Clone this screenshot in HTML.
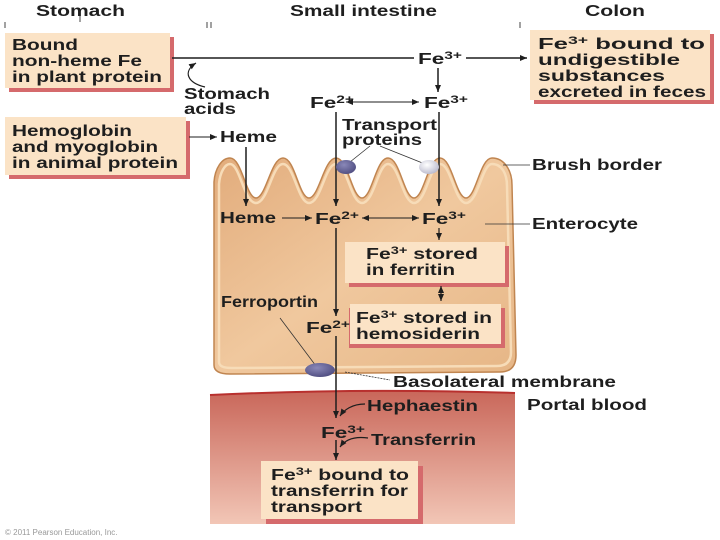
<!DOCTYPE html>
<html><head><meta charset="utf-8"><style>
html,body{margin:0;padding:0;background:#fff}
svg{display:block}
text{font-family:"Liberation Sans",Arial,sans-serif;font-weight:bold;fill:#1e1e1e;font-size:16px}
</style></head><body>
<svg width="720" height="540" viewBox="0 0 720 540" xmlns="http://www.w3.org/2000/svg">
<defs>
<marker id="a" markerWidth="8" markerHeight="8" refX="7" refY="4" orient="auto" markerUnits="userSpaceOnUse"><path d="M0,1 L7,4 L0,7 Z" fill="#1e1e1e"/></marker>
<marker id="b" markerWidth="8" markerHeight="8" refX="1" refY="4" orient="auto" markerUnits="userSpaceOnUse"><path d="M8,1 L1,4 L8,7 Z" fill="#1e1e1e"/></marker>
<linearGradient id="cell" x1="0" y1="0" x2="1" y2="1"><stop offset="0" stop-color="#e2ac7c"/><stop offset="0.5" stop-color="#f0c89e"/><stop offset="1" stop-color="#e6b686"/></linearGradient>
<linearGradient id="blood" x1="0" y1="0" x2="0" y2="1"><stop offset="0" stop-color="#c9675a"/><stop offset="1" stop-color="#f2c6b6"/></linearGradient>
<radialGradient id="ov" cx="0.4" cy="0.35" r="0.7"><stop offset="0" stop-color="#8a88b8"/><stop offset="1" stop-color="#4e4c80"/></radialGradient>
<radialGradient id="ov2" cx="0.4" cy="0.35" r="0.7"><stop offset="0" stop-color="#ffffff"/><stop offset="1" stop-color="#b8b8cc"/></radialGradient>
</defs>

<text x="36" y="16" textLength="89" lengthAdjust="spacingAndGlyphs">Stomach</text>
<text x="290" y="16" textLength="147" lengthAdjust="spacingAndGlyphs">Small intestine</text>
<text x="585" y="16" textLength="60" lengthAdjust="spacingAndGlyphs">Colon</text>
<g stroke="#444" stroke-width="1">
<line x1="5" y1="22" x2="5" y2="28"/><line x1="80" y1="16" x2="80" y2="22"/>
<line x1="207" y1="22" x2="207" y2="28"/><line x1="211" y1="22" x2="211" y2="28"/>
<line x1="520" y1="22" x2="520" y2="28"/>
</g>

<path d="M210,395 Q360,388 515,393 L515,524 L210,524 Z" fill="url(#blood)"/>
<path d="M210,395 Q360,388 515,393" fill="none" stroke="#b8302e" stroke-width="2"/>

<path d="M214,365 L214,182 C215,168 222,158 230,158 C242,158 246,198 256,198 C266,198 271,158 283,158 C295,158 299,198 309,198 C319,198 324,158 336,158 C348,158 352,198 362,198 C372,198 376,158 388,158 C400,158 404,198 414,198 C424,198 428,158 440,158 C452,158 456,198 466,198 C476,198 480,158 492,158 C504,158 512,170 512,185 L516,355 Q516,372 500,372 L230,374 Q214,374 214,365 Z" fill="url(#cell)" stroke="#c08550" stroke-width="1.5"/>
<path d="M219,362 L219,184 C220,172 225,164 230,164 C240,164 244,203 256,203 C268,203 272,164 283,164 C294,164 298,203 309,203 C321,203 325,164 336,164 C347,164 351,203 362,203 C374,203 378,164 388,164 C399,164 403,203 414,203 C426,203 430,164 440,164 C451,164 455,203 466,203 C478,203 482,164 492,164 C502,164 507,174 507,186 L511,352 Q511,366 497,366 L232,368 Q219,368 219,362 Z" fill="none" stroke="#f7dcb8" stroke-width="2.5"/>

<rect x="9" y="37" width="165" height="55" fill="#d56a6c"/>
<rect x="5" y="33" width="165" height="55" fill="#fbe3c6"/>
<text x="12" y="50" textLength="66" lengthAdjust="spacingAndGlyphs">Bound</text>
<text x="12" y="66" textLength="130" lengthAdjust="spacingAndGlyphs">non-heme Fe</text>
<text x="12" y="82" textLength="150" lengthAdjust="spacingAndGlyphs">in plant protein</text>

<rect x="9" y="121" width="181" height="58" fill="#d56a6c"/>
<rect x="5" y="117" width="181" height="58" fill="#fbe3c6"/>
<text x="12" y="136" textLength="120" lengthAdjust="spacingAndGlyphs">Hemoglobin</text>
<text x="12" y="152" textLength="146" lengthAdjust="spacingAndGlyphs">and myoglobin</text>
<text x="12" y="168" textLength="166" lengthAdjust="spacingAndGlyphs">in animal protein</text>

<rect x="534" y="34" width="180" height="70" fill="#d56a6c"/>
<rect x="530" y="30" width="180" height="70" fill="#fbe3c6"/>
<text x="538" y="49" textLength="167" lengthAdjust="spacingAndGlyphs">Fe<tspan dy="-5" font-size="11">3+</tspan><tspan dy="5"> bound to</tspan></text>
<text x="538" y="65" textLength="142" lengthAdjust="spacingAndGlyphs">undigestible</text>
<text x="538" y="81" textLength="127" lengthAdjust="spacingAndGlyphs">substances</text>
<text x="538" y="97" textLength="168" lengthAdjust="spacingAndGlyphs">excreted in feces</text>

<rect x="349" y="246" width="160" height="41" fill="#d56a6c"/>
<rect x="345" y="242" width="160" height="41" fill="#fbe3c6"/>
<text x="366" y="259" textLength="112" lengthAdjust="spacingAndGlyphs">Fe<tspan dy="-5" font-size="11">3+</tspan><tspan dy="5"> stored</tspan></text>
<text x="366" y="275" textLength="89" lengthAdjust="spacingAndGlyphs">in ferritin</text>

<rect x="349" y="308" width="156" height="40" fill="#d56a6c"/>
<rect x="350" y="304" width="151" height="40" fill="#fbe3c6"/>
<text x="356" y="323" textLength="136" lengthAdjust="spacingAndGlyphs">Fe<tspan dy="-5" font-size="11">3+</tspan><tspan dy="5"> stored in</tspan></text>
<text x="356" y="339" textLength="124" lengthAdjust="spacingAndGlyphs">hemosiderin</text>

<rect x="266" y="466" width="157" height="58" fill="#d56a6c"/>
<rect x="261" y="461" width="157" height="58" fill="#fbe3c6"/>
<text x="271" y="480" textLength="138" lengthAdjust="spacingAndGlyphs">Fe<tspan dy="-5" font-size="11">3+</tspan><tspan dy="5"> bound to</tspan></text>
<text x="271" y="496" textLength="137" lengthAdjust="spacingAndGlyphs">transferrin for</text>
<text x="271" y="512" textLength="91" lengthAdjust="spacingAndGlyphs">transport</text>

<text x="418" y="64" textLength="44" lengthAdjust="spacingAndGlyphs">Fe<tspan dy="-5" font-size="11">3+</tspan></text>
<text x="184" y="99" textLength="86" lengthAdjust="spacingAndGlyphs">Stomach</text>
<text x="184" y="114" textLength="52" lengthAdjust="spacingAndGlyphs">acids</text>
<text x="310" y="108" textLength="44" lengthAdjust="spacingAndGlyphs">Fe<tspan dy="-5" font-size="11">2+</tspan></text>
<text x="424" y="108" textLength="44" lengthAdjust="spacingAndGlyphs">Fe<tspan dy="-5" font-size="11">3+</tspan></text>
<text x="342" y="130" textLength="95" lengthAdjust="spacingAndGlyphs">Transport</text>
<text x="342" y="145" textLength="80" lengthAdjust="spacingAndGlyphs">proteins</text>
<text x="220" y="142" textLength="57" lengthAdjust="spacingAndGlyphs">Heme</text>
<text x="532" y="170" textLength="130" lengthAdjust="spacingAndGlyphs">Brush border</text>
<text x="220" y="223" textLength="56" lengthAdjust="spacingAndGlyphs">Heme</text>
<text x="315" y="224" textLength="44" lengthAdjust="spacingAndGlyphs">Fe<tspan dy="-5" font-size="11">2+</tspan></text>
<text x="422" y="224" textLength="44" lengthAdjust="spacingAndGlyphs">Fe<tspan dy="-5" font-size="11">3+</tspan></text>
<text x="532" y="229" textLength="106" lengthAdjust="spacingAndGlyphs">Enterocyte</text>
<text x="221" y="307" textLength="97" lengthAdjust="spacingAndGlyphs">Ferroportin</text>
<text x="306" y="333" textLength="44" lengthAdjust="spacingAndGlyphs">Fe<tspan dy="-5" font-size="11">2+</tspan></text>
<text x="393" y="387" textLength="223" lengthAdjust="spacingAndGlyphs">Basolateral membrane</text>
<text x="367" y="411" textLength="111" lengthAdjust="spacingAndGlyphs">Hephaestin</text>
<text x="527" y="410" textLength="120" lengthAdjust="spacingAndGlyphs">Portal blood</text>
<text x="321" y="438" textLength="44" lengthAdjust="spacingAndGlyphs">Fe<tspan dy="-5" font-size="11">3+</tspan></text>
<text x="371" y="445" textLength="105" lengthAdjust="spacingAndGlyphs">Transferrin</text>
<text x="5" y="535" style="font-weight:normal;fill:#999;font-size:8px">© 2011 Pearson Education, Inc.</text>

<g stroke="#1e1e1e" stroke-width="1.5" fill="none">
<line x1="172" y1="58" x2="414" y2="58"/>
<line x1="466" y1="58" x2="527" y2="58" marker-end="url(#a)"/>
<line x1="438" y1="68" x2="438" y2="92" marker-end="url(#a)"/>
<path d="M205,87 C188,83 182,72 196,63" marker-end="url(#a)" stroke-width="1.2"/>
<line x1="346" y1="102" x2="419" y2="102" marker-start="url(#b)" marker-end="url(#a)" stroke-width="1"/>
<line x1="189" y1="137" x2="217" y2="137" marker-end="url(#a)" stroke-width="1"/>
<line x1="246" y1="147" x2="246" y2="206" marker-end="url(#a)"/>
<line x1="336" y1="112" x2="336" y2="206" marker-end="url(#a)"/>
<line x1="439" y1="112" x2="439" y2="206" marker-end="url(#a)"/>
<line x1="282" y1="218" x2="312" y2="218" marker-end="url(#a)" stroke-width="1"/>
<line x1="362" y1="218" x2="419" y2="218" marker-start="url(#b)" marker-end="url(#a)" stroke-width="1"/>
<line x1="439" y1="228" x2="439" y2="240" marker-end="url(#a)" stroke-width="1.2"/>
<line x1="441" y1="286" x2="441" y2="301" marker-start="url(#b)" marker-end="url(#a)" stroke-width="1.2"/>
<line x1="336" y1="228" x2="336" y2="316" marker-end="url(#a)"/>
<line x1="336" y1="336" x2="336" y2="418" marker-end="url(#a)"/>
<line x1="336" y1="440" x2="336" y2="460" marker-end="url(#a)"/>
<path d="M365,404 C352,404 344,410 340,416" marker-end="url(#a)" stroke-width="1.2"/>
<path d="M368,438 C354,436 345,440 340,447" marker-end="url(#a)" stroke-width="1.2"/>
</g>
<g stroke="#333" stroke-width="0.8">
<line x1="370" y1="146" x2="350" y2="162"/><line x1="380" y1="146" x2="425" y2="164"/>
<line x1="503" y1="165" x2="530" y2="165"/>
<line x1="485" y1="224" x2="530" y2="224"/>
<line x1="280" y1="318" x2="316" y2="366"/>
<line x1="345" y1="372" x2="390" y2="380" stroke-dasharray="2,1"/>
</g>
<ellipse cx="346" cy="167" rx="10" ry="7" fill="url(#ov)"/>
<ellipse cx="429" cy="167" rx="10" ry="7" fill="url(#ov2)"/>
<ellipse cx="320" cy="370" rx="15" ry="7" fill="url(#ov)"/>
</svg>
</body></html>
